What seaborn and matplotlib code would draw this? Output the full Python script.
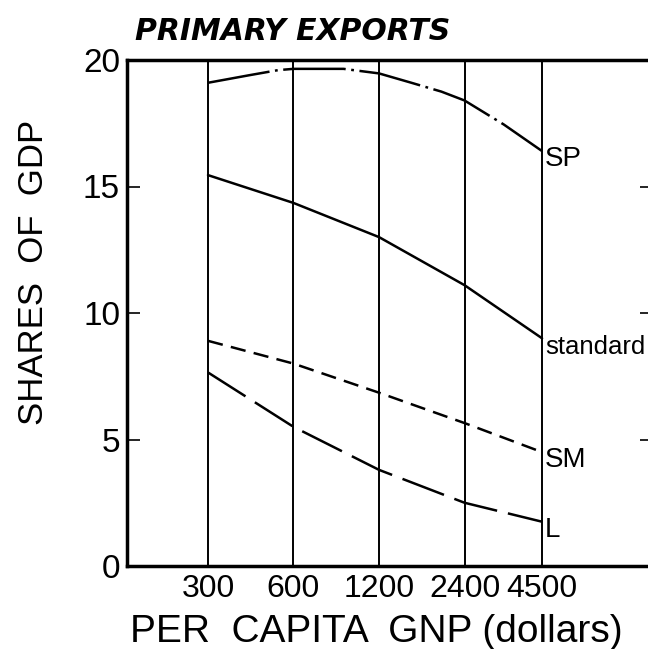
import matplotlib
matplotlib.use("Agg")
import matplotlib.pyplot as plt
import numpy as np
import pandas as pd
import seaborn as sns
from matplotlib.ticker import NullLocator

# per capita GNP levels (dollars)
gnp = [300, 600, 1200, 2400, 4500]
gnp_labels = ["300", "600", "1200", "2400", "4500"]

# shares of GDP
standard = [15.45, 14.35, 13.0, 11.1, 9.0]
sm = [8.9, 8.0, 6.85, 5.65, 4.5]
large = [7.65, 5.5, 3.8, 2.5, 1.75]

# SP curve is strongly bent, read at a few extra points
sp_gnp = [300, 420, 530, 600, 900, 1200, 1560, 1990, 2400, 3300, 4500]
sp = [19.1, 19.4, 19.6, 19.65, 19.65, 19.47, 19.1, 18.75, 18.4, 17.45, 16.4]

y_ticks = [0, 5, 10, 15, 20]

sns.set_style("white")
plt.rcParams["font.family"] = ["Liberation Sans", "DejaVu Sans"]
plt.rcParams["lines.scale_dashes"] = False
plt.rcParams["text.color"] = "black"
plt.rcParams["xtick.color"] = "black"
plt.rcParams["ytick.color"] = "black"
plt.rcParams["axes.labelcolor"] = "black"

fig = plt.figure(figsize=(6.48, 6.49), dpi=100)
ax = fig.add_axes([127 / 648, 83 / 649, 525 / 648, 506 / 649])

lw = 1.8
sns.lineplot(x=sp_gnp, y=sp, ax=ax, color="black", lw=lw,
             linestyle=(0, (45, 4, 2, 4)))
sns.lineplot(x=gnp, y=standard, ax=ax, color="black", lw=lw, linestyle="-")
sns.lineplot(x=gnp, y=sm, ax=ax, color="black", lw=lw, linestyle=(0, (11, 6)))
sns.lineplot(x=gnp, y=large, ax=ax, color="black", lw=lw, linestyle=(0, (32, 8)))

ax.set_xscale("log")
ax.set_xlim(155.6, 10970)
ax.set_ylim(0, 20)
ax.set_xticks(gnp)
ax.set_xticklabels(gnp_labels)
ax.xaxis.set_minor_locator(NullLocator())
ax.set_yticks(y_ticks)
ax.set_yticklabels([str(v) for v in y_ticks])

ax.tick_params(axis="x", length=0, pad=6, labelsize=23)
ax.tick_params(axis="y", direction="in", length=9, width=1.2, pad=5,
               labelsize=24, right=True, left=True)

ax.grid(axis="x", color="black", lw=1.4)
ax.grid(axis="y", visible=False)

for side in ["left", "top", "bottom"]:
    ax.spines[side].set_linewidth(2.5)
    ax.spines[side].set_color("black")
ax.spines["right"].set_visible(False)

# curve labels at the right ends
ends = [("SP", sp[-1], 20), ("standard", standard[-1], 18.5),
        ("SM", sm[-1], 20), ("L", large[-1], 20)]
for name, val, size in ends:
    ax.annotate(name, (gnp[-1], val), xytext=(2, -6), textcoords="offset points",
                ha="left", va="center", fontsize=size, annotation_clip=False)

ax.set_ylabel("SHARES  OF  GDP", fontsize=25)
ax.yaxis.set_label_coords(-0.147, 0.58)
ax.set_xlabel("PER  CAPITA  GNP (dollars)", fontsize=28)
ax.xaxis.set_label_coords(0.474, -0.095)
ax.xaxis.label.set_va("top")

fig.text(135 / 648, 609 / 649, "PRIMARY EXPORTS", fontsize=21.5,
         family=["DejaVu Sans"], fontweight="bold", fontstyle="italic",
         ha="left", va="baseline")

fig.savefig("out.png", dpi=100)
